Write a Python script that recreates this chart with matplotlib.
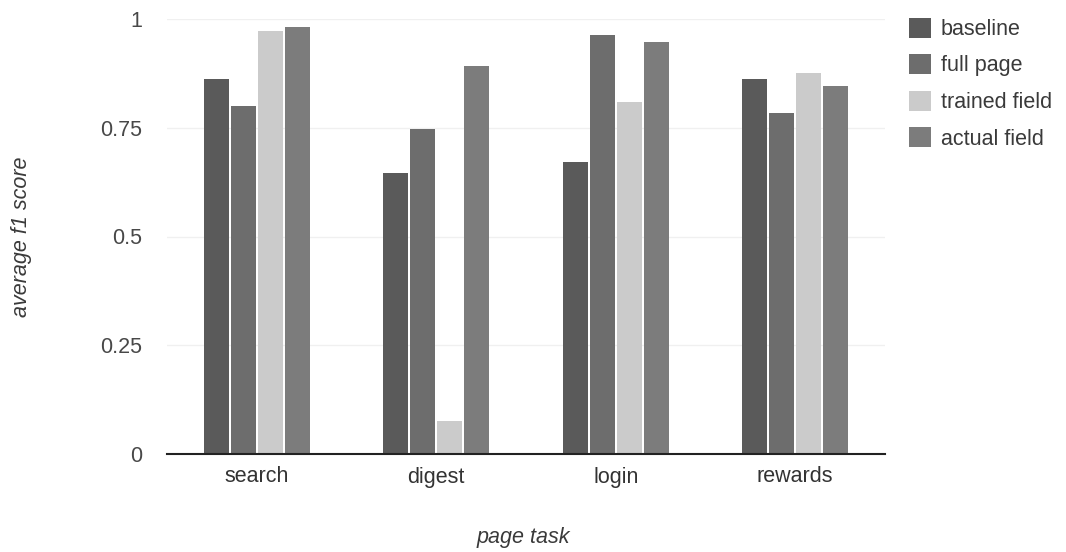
import matplotlib
matplotlib.use("Agg")
import matplotlib.pyplot as plt
from matplotlib.patches import Patch
import numpy as np

plt.rcParams['font.family'] = ['Liberation Sans', 'DejaVu Sans']

categories = ["search", "digest", "login", "rewards"]
series_names = ["baseline", "full page", "trained field", "actual field"]
baseline = [0.861, 0.645, 0.672, 0.862]
full_page = [0.800, 0.747, 0.963, 0.785]
trained_field = [0.972, 0.077, 0.810, 0.877]
actual_field = [0.981, 0.893, 0.946, 0.847]
yticks = [0, 0.25, 0.5, 0.75, 1]
ytick_labels = ["0", "0.25", "0.5", "0.75", "1"]

colors = ["#5a5a5a", "#6d6d6d", "#cbcbcb", "#7c7c7c"]
series = [baseline, full_page, trained_field, actual_field]

W, H = 1066, 552
FS = 15.5
fig = plt.figure(figsize=(W / 100, H / 100), dpi=100)
ax = fig.add_axes([167 / W, (H - 454) / H, 718 / W, 435 / H])

x = np.arange(len(categories)) + 0.5
step = 0.15
width = 0.139
for i, (vals, col) in enumerate(zip(series, colors)):
    ax.bar(x + (i - 1.5) * step, vals, width=width, color=col, zorder=2)

ax.set_xlim(0, len(categories))
ax.set_ylim(0, 1)
ax.set_yticks(yticks)
ax.set_yticklabels(ytick_labels)
ax.set_xticks(x)
ax.set_xticklabels(categories)
ax.tick_params(axis='both', length=0, labelsize=FS, colors="#484848")
ax.tick_params(axis='y', pad=18)
ax.tick_params(axis='x', pad=9)
for lbl in ax.get_xticklabels():
    lbl.set_color("#333333")

for v in yticks[1:]:
    ax.axhline(v, color="#f0f0f0", lw=1, zorder=1)

for s in ["top", "right", "left"]:
    ax.spines[s].set_visible(False)
ax.spines["bottom"].set_color("#222222")
ax.spines["bottom"].set_linewidth(1.5)
ax.spines["bottom"].set_zorder(3)

fig.text(22 / W, 1 - 237 / H, "average f1 score", rotation=90, style="italic",
         fontsize=FS, color="#3a3a3a", ha="center", va="center")
fig.text(523 / W, 1 - 538 / H, "page task", style="italic",
         fontsize=FS, color="#3a3a3a", ha="center", va="center")

handles = [Patch(facecolor=c, edgecolor="none") for c in colors]
fig.legend(handles, series_names, loc="upper left",
           bbox_to_anchor=(900 / W, 1 - 9 / H), frameon=False,
           fontsize=FS, handlelength=1.05, handleheight=1.05,
           handletextpad=0.45, labelspacing=0.66, labelcolor="#3a3a3a",
           borderaxespad=0)

fig.savefig("out.png", dpi=100)
